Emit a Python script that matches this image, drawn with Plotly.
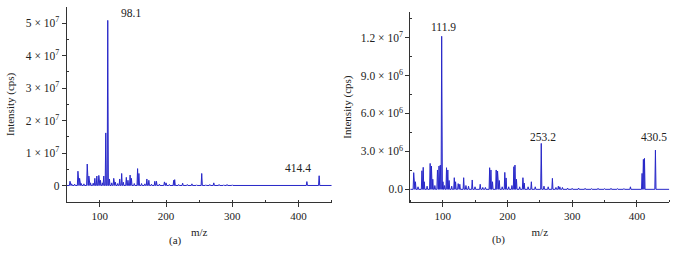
import plotly.graph_objects as go

# ---- Data: panel (a) ----
mz_a = [55, 57.5, 62, 67, 69.5, 72, 76, 81, 83.5, 86, 90, 92.5, 95.5, 98.5, 101, 104, 106, 109, 112, 114.5,
        118, 121, 123.5, 127, 130, 133, 135.5, 140, 142.5, 145.7, 147.7, 152, 157, 159, 163, 168, 171, 174,
        178, 183, 185.5, 190, 197.5, 200, 205, 211.5, 213, 219, 225, 232, 239, 246, 253.8, 260, 266, 272,
        280, 287, 292, 300, 310, 320, 333, 345, 358, 370, 383, 395, 405, 412.5, 431]
int_a = [0.13, 0.05, 0.04, 0.44, 0.22, 0.06, 0.05, 0.66, 0.29, 0.08, 0.07, 0.22, 0.29, 0.31, 0.16, 0.08,
         0.29, 1.62, 5.09, 0.20, 0.08, 0.22, 0.10, 0.06, 0.20, 0.37, 0.10, 0.25, 0.16, 0.32, 0.22, 0.06,
         0.52, 0.37, 0.06, 0.05, 0.20, 0.16, 0.04, 0.13, 0.13, 0.04, 0.11, 0.08, 0.03, 0.16, 0.18, 0.03,
         0.07, 0.03, 0.05, 0.02, 0.37, 0.02, 0.03, 0.08, 0.03, 0.02, 0.03, 0.02, 0.015, 0.015, 0.01, 0.015,
         0.01, 0.01, 0.015, 0.01, 0.015, 0.12, 0.30]
int_a = [v * 1e7 for v in int_a]

# ---- Data: panel (b) ----
mz_b = [55.3, 58, 62, 68, 70, 71.6, 76, 80.7, 82.7, 84.8, 88, 92, 94.4, 96.4, 98.5, 100.5, 103, 106, 108,
        110, 114, 118, 120, 124, 126.5, 132.5, 136, 140, 145.7, 150, 158, 162, 166, 172.6, 174.6, 177,
        182.7, 184.8, 187.5, 192, 196, 198, 202, 207, 210, 211.7, 214, 219, 224, 226, 232, 237, 243,
        252.3, 256.5, 263, 269.5, 275, 278.7, 281, 285, 293, 300, 310, 320, 330, 340, 350, 360, 370, 380,
        390, 408, 410, 411.7, 428.6]
int_b = [1.32, 0.60, 0.20, 1.47, 1.74, 0.60, 0.25, 2.05, 1.84, 0.80, 0.30, 1.53, 1.84, 1.92, 12.1, 0.60,
         0.30, 1.71, 1.53, 0.70, 0.25, 0.92, 0.60, 0.45, 0.40, 0.92, 0.30, 0.25, 0.74, 0.20, 0.40, 0.15,
         0.15, 1.71, 1.53, 0.60, 1.53, 1.45, 0.70, 0.20, 1.34, 0.90, 0.20, 0.30, 1.79, 1.92, 0.80, 0.20,
         0.92, 0.50, 0.20, 0.60, 0.20, 3.63, 0.25, 0.20, 0.87, 0.15, 0.25, 0.20, 0.15, 0.10, 0.08, 0.10,
         0.08, 0.06, 0.08, 0.06, 0.08, 0.06, 0.06, 0.20, 1.26, 2.37, 2.45, 3.10]
int_b = [v * 1e6 for v in int_b]

labels_a = ["98.1", "414.4"]
label_mz_a = [112, 412.5]
label_int_a = [5.09e7, 0.12e7]
labels_b = ["111.9", "253.2", "430.5"]
label_mz_b = [98.5, 252.3, 428.6]
label_int_b = [12.1e6, 3.63e6, 3.10e6]

ticks_a = [0, 1e7, 2e7, 3e7, 4e7, 5e7]
tick_text_a = ["0"] + [f"{i} × 10<sup>7</sup>" for i in range(1, 6)]
ticks_b = [0, 3e6, 6e6, 9e6, 1.2e7]
tick_text_b = ["0.0", "3.0 × 10<sup>6</sup>", "6.0 × 10<sup>6</sup>", "9.0 × 10<sup>6</sup>",
               "1.2 × 10<sup>7</sup>"]

# label placement styles (pixels)
shift_a = [dict(xanchor="left", xshift=11, yshift=-1), dict(xanchor="center", xshift=-9, yshift=6)]
shift_b = [dict(xanchor="center", xshift=2, yshift=1), dict(xanchor="center", xshift=2, yshift=-2),
           dict(xanchor="center", xshift=-1, yshift=5)]


def spectrum(mz, inten, x0=50, x1=450, hw=0.9):
    xs, ys = [x0], [0]
    for m, v in sorted(zip(mz, inten)):
        xs += [m - hw, m, m + hw]
        ys += [0, v, 0]
    xs.append(x1)
    ys.append(0)
    return xs, ys


FONT = "Liberation Serif"
LINE = "rgb(40,40,200)"
FILL = "rgba(90,90,235,0.55)"

fig = go.Figure()
xa, ya = spectrum(mz_a, int_a)
xb, yb = spectrum(mz_b, int_b)
fig.add_trace(go.Scatter(x=xa, y=ya, mode="lines", line=dict(color=LINE, width=1), fill="tozeroy",
                         fillcolor=FILL, xaxis="x", yaxis="y", hoverinfo="skip"))
fig.add_trace(go.Scatter(x=xb, y=yb, mode="lines", line=dict(color=LINE, width=1), fill="tozeroy",
                         fillcolor=FILL, xaxis="x2", yaxis="y2", hoverinfo="skip"))

axis_common = dict(showline=True, linecolor="#333", linewidth=1, ticks="outside", ticklen=4,
                   tickcolor="#333", showgrid=False, zeroline=False,
                   title_font=dict(family=FONT, size=11, color="#222"))
xfont = dict(family=FONT, size=11, color="#222")
yfont = dict(family=FONT, size=11.5, color="#222")

fig.update_layout(
    width=677, height=272, margin=dict(l=0, r=0, t=0, b=0),
    paper_bgcolor="white", plot_bgcolor="white", showlegend=False,
    xaxis=dict(domain=[0.0985, 0.490], range=[50, 450], anchor="y", tickfont=xfont,
               tickvals=[100, 200, 300, 400], title=dict(text="m/z", standoff=7),
               minor=dict(ticks="inside", ticklen=2, dtick=50, tick0=50, tickcolor="#333"),
               **axis_common),
    yaxis=dict(domain=[0.2585, 0.974], range=[-0.5e7, 5.5e7], anchor="x", tickfont=yfont,
               tickvals=ticks_a, ticktext=tick_text_a,
               title=dict(text="Intensity (cps)", standoff=8),
               minor=dict(ticks="inside", ticklen=2, tickvals=[0.5e7, 1.5e7, 2.5e7, 3.5e7, 4.5e7],
                          tickcolor="#333"),
               **axis_common),
    xaxis2=dict(domain=[0.606, 0.9886], range=[50, 450], anchor="y2", tickfont=xfont,
                tickvals=[100, 200, 300, 400], title=dict(text="m/z", standoff=7),
                minor=dict(ticks="inside", ticklen=2, dtick=50, tick0=50, tickcolor="#333"),
                **axis_common),
    yaxis2=dict(domain=[0.2574, 0.955], range=[-1.0e6, 1.4e7], anchor="x2", tickfont=yfont,
                tickvals=ticks_b, ticktext=tick_text_b,
                title=dict(text="Intensity (cps)", standoff=6),
                minor=dict(ticks="inside", ticklen=2, tickvals=[1.5e6, 4.5e6, 7.5e6, 10.5e6, 13.5e6],
                           tickcolor="#333"),
                **axis_common),
)

for txt, x, y, s in zip(labels_a, label_mz_a, label_int_a, shift_a):
    fig.add_annotation(x=x, y=y, xref="x", yref="y", text=txt, showarrow=False, yanchor="bottom",
                       font=dict(family=FONT, size=11.5, color="#222"), **s)
for txt, x, y, s in zip(labels_b, label_mz_b, label_int_b, shift_b):
    fig.add_annotation(x=x, y=y, xref="x2", yref="y2", text=txt, showarrow=False, yanchor="bottom",
                       font=dict(family=FONT, size=11.5, color="#222"), **s)

fig.add_annotation(x=0.246, y=1 - 249 / 272, xref="paper", yref="paper", text="(a)", showarrow=False,
                   font=dict(family=FONT, size=11, color="#222"))
fig.add_annotation(x=0.749, y=1 - 248 / 272, xref="paper", yref="paper", text="(b)", showarrow=False,
                   font=dict(family=FONT, size=11, color="#222"))

fig.write_html("out.html", config={"displayModeBar": False},
               post_script="document.body.style.margin='0';")
